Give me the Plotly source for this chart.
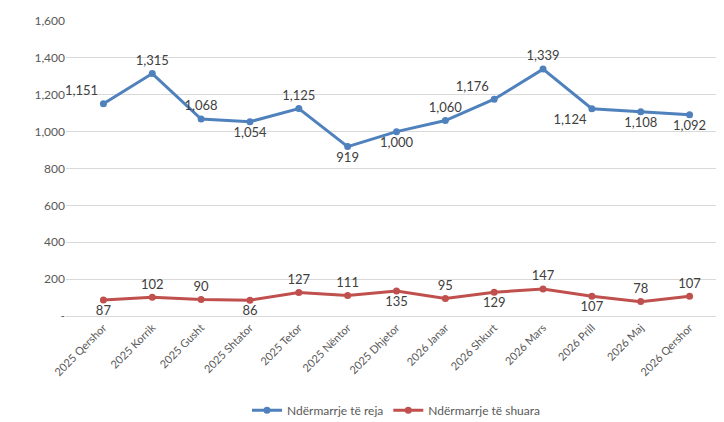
import plotly.graph_objects as go

muajt = ["2025 Qershor", "2025 Korrik", "2025 Gusht", "2025 Shtator", "2025 Tetor",
         "2025 Nëntor", "2025 Dhjetor", "2026 Janar", "2026 Shkurt", "2026 Mars",
         "2026 Prill", "2026 Maj", "2026 Qershor"]
te_reja = [1151, 1315, 1068, 1054, 1125, 919, 1000, 1060, 1176, 1339, 1124, 1108, 1092]
te_shuara = [87, 102, 90, 86, 127, 111, 135, 95, 129, 147, 107, 78, 107]

pos_reja = ["top left", "top center", "top center", "bottom center", "top center",
            "bottom center", "bottom center", "top center", "top left", "top center",
            "bottom left", "bottom center", "bottom center"]
pos_shuara = ["bottom center", "top center", "top center", "bottom center", "top center",
              "top center", "bottom center", "top center", "bottom center", "top center",
              "bottom center", "top center", "top center"]

fig = go.Figure()
fig.add_trace(go.Scatter(
    x=muajt, y=te_reja, mode="lines+markers+text", name="Ndërmarrje të reja",
    line=dict(color="#4F81BD", width=3), marker=dict(size=7, color="#4F81BD"),
    text=[f"{v:,}" for v in te_reja], textposition=pos_reja,
    textfont=dict(size=13, color="#404040")
))
fig.add_trace(go.Scatter(
    x=muajt, y=te_shuara, mode="lines+markers+text", name="Ndërmarrje të shuara",
    line=dict(color="#C0504D", width=3), marker=dict(size=7, color="#C0504D"),
    text=[f"{v:,}" for v in te_shuara], textposition=pos_shuara,
    textfont=dict(size=13, color="#404040")
))

fig.update_layout(
    width=724, height=422,
    margin=dict(l=58, r=5, t=10, b=107),
    plot_bgcolor="white", paper_bgcolor="white",
    font=dict(family="Lato, Liberation Sans, sans-serif", size=12, color="#595959"),
    showlegend=True,
    legend=dict(orientation="h", x=0.5, xanchor="center", y=-0.27, yanchor="top",
                font=dict(size=12)),
)
fig.update_xaxes(tickangle=-45, showgrid=False, showline=True, linecolor="#D9D9D9",
                 tickfont=dict(size=11), automargin=False)
fig.update_yaxes(range=[0, 1600], showgrid=True,
                 gridcolor="#D9D9D9", zeroline=False,
                 tickvals=list(range(0, 1601, 200)),
                 ticktext=["-"] + [f"{v:,}" for v in range(200, 1601, 200)])

fig.write_html("out.html")
